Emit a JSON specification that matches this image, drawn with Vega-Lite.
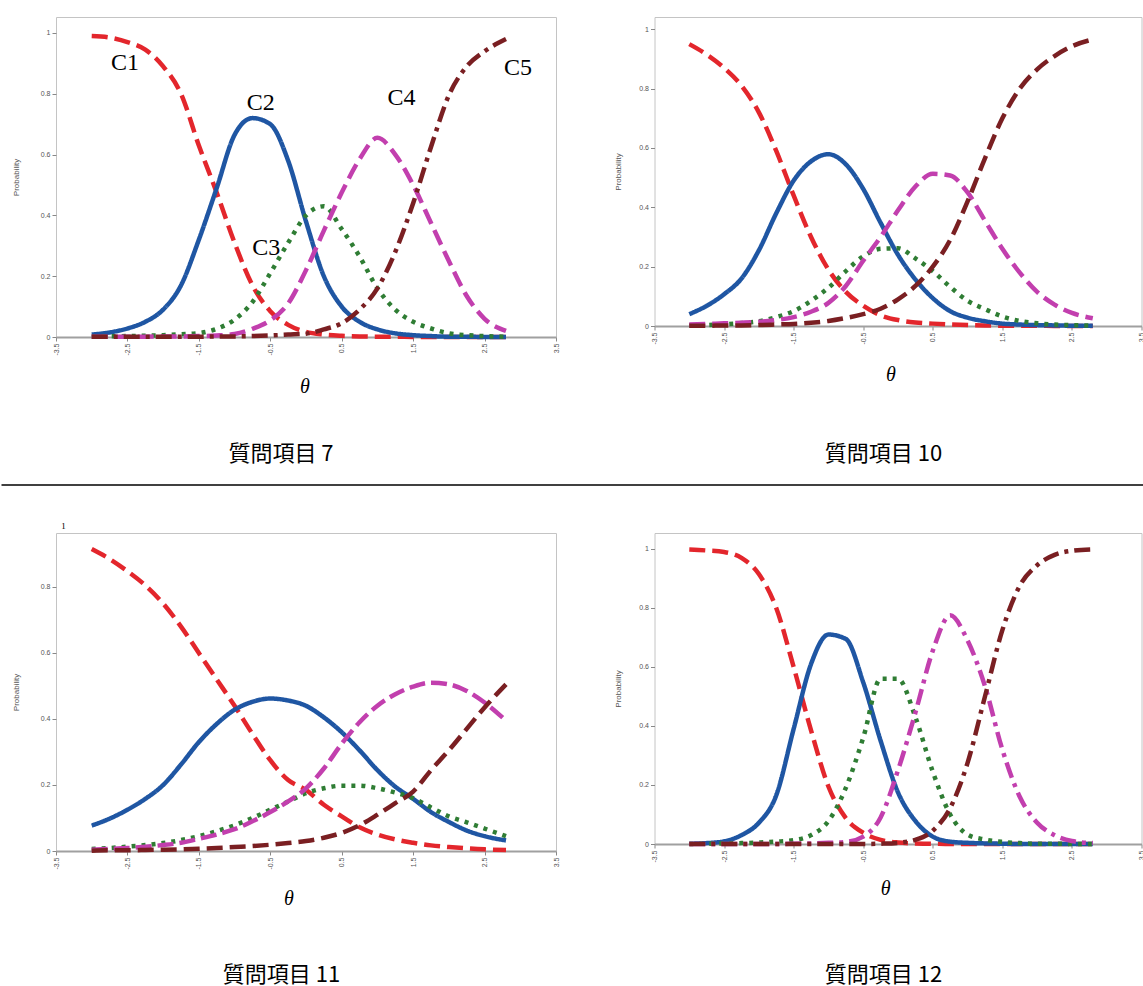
{
  "$schema": "https://vega.github.io/schema/vega-lite/v6.json",
  "padding": {"left": 0, "top": 16, "right": 0, "bottom": 0},
  "background": "white",
  "columns": 2,
  "bounds": "flush",
  "align": "all",
  "spacing": {"row": 196, "column": 98.5},
  "resolve": {"scale": {"x": "independent", "y": "independent", "strokeDash": "independent"}},
  "config": {
    "view": {"stroke": "#c4c4c4", "strokeWidth": 1},
    "axis": {"grid": false, "labelFont": "Liberation Sans", "labelFontSize": 7, "labelColor": "#555555", "tickColor": "#888888", "tickSize": 4, "labelPadding": 2, "labelExpr": "'' + datum.value"},
    "axisX": {"domainColor": "#a0a0a0", "domainWidth": 2, "labelAngle": -90, "titleFont": "Liberation Serif", "titleFontStyle": "italic", "titleFontWeight": "normal", "titleFontSize": 20, "titleColor": "black", "titleAlign": "center", "titleBaseline": "middle", "titleAngle": 0},
    "axisY": {"domain": false, "titleFont": "Liberation Sans", "titleFontSize": 8, "titleColor": "#555555", "titleFontWeight": "normal", "titleBaseline": "middle"},
    "line": {"strokeWidth": 4.5, "strokeCap": "butt", "interpolate": "monotone"},
    "title": {"font": "Noto Sans CJK JP", "fontSize": 22, "fontWeight": "normal", "color": "black", "anchor": "middle", "frame": "group", "baseline": "top"}
  },
  "datasets": {
    "labels": [
      {"lab": "C1", "t": -2.533, "p": 0.902},
      {"lab": "C2", "t": -0.633, "p": 0.771},
      {"lab": "C3", "t": -0.557, "p": 0.294},
      {"lab": "C4", "t": 1.337, "p": 0.787},
      {"lab": "C5", "t": 2.967, "p": 0.886}
    ],
    "curves": [
{"i":7,"c":"C1","t":-3,"p":0.99},{"i":7,"c":"C1","t":-2.75,"p":0.985},{"i":7,"c":"C1","t":-2.5,"p":0.97},{"i":7,"c":"C1","t":-2.25,"p":0.945},{"i":7,"c":"C1","t":-2,"p":0.89},{"i":7,"c":"C1","t":-1.75,"p":0.8},{"i":7,"c":"C1","t":-1.5,"p":0.63},{"i":7,"c":"C1","t":-1.25,"p":0.475},{"i":7,"c":"C1","t":-1,"p":0.31},{"i":7,"c":"C1","t":-0.75,"p":0.17},{"i":7,"c":"C1","t":-0.5,"p":0.085},{"i":7,"c":"C1","t":-0.25,"p":0.04},{"i":7,"c":"C1","t":0,"p":0.017},{"i":7,"c":"C1","t":0.25,"p":0.008},{"i":7,"c":"C1","t":0.5,"p":0.004},{"i":7,"c":"C1","t":0.75,"p":0.002},{"i":7,"c":"C1","t":1,"p":0.001},{"i":7,"c":"C1","t":1.25,"p":0.001},{"i":7,"c":"C1","t":1.5,"p":0},{"i":7,"c":"C1","t":1.75,"p":0},{"i":7,"c":"C1","t":2,"p":0},{"i":7,"c":"C1","t":2.25,"p":0},{"i":7,"c":"C1","t":2.5,"p":0},{"i":7,"c":"C1","t":2.8,"p":0},
{"i":7,"c":"C2","t":-3,"p":0.008},{"i":7,"c":"C2","t":-2.75,"p":0.015},{"i":7,"c":"C2","t":-2.5,"p":0.028},{"i":7,"c":"C2","t":-2.25,"p":0.05},{"i":7,"c":"C2","t":-2,"p":0.09},{"i":7,"c":"C2","t":-1.75,"p":0.17},{"i":7,"c":"C2","t":-1.5,"p":0.32},{"i":7,"c":"C2","t":-1.25,"p":0.49},{"i":7,"c":"C2","t":-1,"p":0.665},{"i":7,"c":"C2","t":-0.75,"p":0.72},{"i":7,"c":"C2","t":-0.5,"p":0.7},{"i":7,"c":"C2","t":-0.25,"p":0.58},{"i":7,"c":"C2","t":0,"p":0.38},{"i":7,"c":"C2","t":0.25,"p":0.2},{"i":7,"c":"C2","t":0.5,"p":0.1},{"i":7,"c":"C2","t":0.75,"p":0.05},{"i":7,"c":"C2","t":1,"p":0.025},{"i":7,"c":"C2","t":1.25,"p":0.012},{"i":7,"c":"C2","t":1.5,"p":0.006},{"i":7,"c":"C2","t":1.75,"p":0.003},{"i":7,"c":"C2","t":2,"p":0.001},{"i":7,"c":"C2","t":2.25,"p":0.001},{"i":7,"c":"C2","t":2.5,"p":0},{"i":7,"c":"C2","t":2.8,"p":0},
{"i":7,"c":"C3","t":-3,"p":0.001},{"i":7,"c":"C3","t":-2.75,"p":0.002},{"i":7,"c":"C3","t":-2.5,"p":0.003},{"i":7,"c":"C3","t":-2.25,"p":0.004},{"i":7,"c":"C3","t":-2,"p":0.006},{"i":7,"c":"C3","t":-1.75,"p":0.009},{"i":7,"c":"C3","t":-1.5,"p":0.013},{"i":7,"c":"C3","t":-1.25,"p":0.027},{"i":7,"c":"C3","t":-1,"p":0.057},{"i":7,"c":"C3","t":-0.75,"p":0.115},{"i":7,"c":"C3","t":-0.5,"p":0.21},{"i":7,"c":"C3","t":-0.25,"p":0.31},{"i":7,"c":"C3","t":0,"p":0.4},{"i":7,"c":"C3","t":0.25,"p":0.43},{"i":7,"c":"C3","t":0.5,"p":0.355},{"i":7,"c":"C3","t":0.75,"p":0.265},{"i":7,"c":"C3","t":1,"p":0.16},{"i":7,"c":"C3","t":1.25,"p":0.09},{"i":7,"c":"C3","t":1.5,"p":0.05},{"i":7,"c":"C3","t":1.75,"p":0.028},{"i":7,"c":"C3","t":2,"p":0.012},{"i":7,"c":"C3","t":2.25,"p":0.006},{"i":7,"c":"C3","t":2.5,"p":0.003},{"i":7,"c":"C3","t":2.8,"p":0.001},
{"i":7,"c":"C4","t":-3,"p":0.001},{"i":7,"c":"C4","t":-2.75,"p":0.001},{"i":7,"c":"C4","t":-2.5,"p":0.001},{"i":7,"c":"C4","t":-2.25,"p":0.001},{"i":7,"c":"C4","t":-2,"p":0.002},{"i":7,"c":"C4","t":-1.75,"p":0.002},{"i":7,"c":"C4","t":-1.5,"p":0.003},{"i":7,"c":"C4","t":-1.25,"p":0.005},{"i":7,"c":"C4","t":-1,"p":0.01},{"i":7,"c":"C4","t":-0.75,"p":0.027},{"i":7,"c":"C4","t":-0.5,"p":0.055},{"i":7,"c":"C4","t":-0.25,"p":0.11},{"i":7,"c":"C4","t":0,"p":0.22},{"i":7,"c":"C4","t":0.25,"p":0.35},{"i":7,"c":"C4","t":0.5,"p":0.475},{"i":7,"c":"C4","t":0.75,"p":0.585},{"i":7,"c":"C4","t":1,"p":0.655},{"i":7,"c":"C4","t":1.25,"p":0.6},{"i":7,"c":"C4","t":1.5,"p":0.5},{"i":7,"c":"C4","t":1.75,"p":0.375},{"i":7,"c":"C4","t":2,"p":0.25},{"i":7,"c":"C4","t":2.25,"p":0.135},{"i":7,"c":"C4","t":2.5,"p":0.06},{"i":7,"c":"C4","t":2.8,"p":0.02},
{"i":7,"c":"C5","t":-3,"p":0.001},{"i":7,"c":"C5","t":-2.75,"p":0.001},{"i":7,"c":"C5","t":-2.5,"p":0.001},{"i":7,"c":"C5","t":-2.25,"p":0.001},{"i":7,"c":"C5","t":-2,"p":0.001},{"i":7,"c":"C5","t":-1.75,"p":0.001},{"i":7,"c":"C5","t":-1.5,"p":0.001},{"i":7,"c":"C5","t":-1.25,"p":0.002},{"i":7,"c":"C5","t":-1,"p":0.002},{"i":7,"c":"C5","t":-0.75,"p":0.003},{"i":7,"c":"C5","t":-0.5,"p":0.005},{"i":7,"c":"C5","t":-0.25,"p":0.008},{"i":7,"c":"C5","t":0,"p":0.011},{"i":7,"c":"C5","t":0.25,"p":0.025},{"i":7,"c":"C5","t":0.5,"p":0.045},{"i":7,"c":"C5","t":0.75,"p":0.09},{"i":7,"c":"C5","t":1,"p":0.16},{"i":7,"c":"C5","t":1.25,"p":0.28},{"i":7,"c":"C5","t":1.5,"p":0.44},{"i":7,"c":"C5","t":1.75,"p":0.625},{"i":7,"c":"C5","t":2,"p":0.795},{"i":7,"c":"C5","t":2.25,"p":0.89},{"i":7,"c":"C5","t":2.5,"p":0.94},{"i":7,"c":"C5","t":2.8,"p":0.98},
{"i":10,"c":"C1","t":-3,"p":0.95},{"i":10,"c":"C1","t":-2.75,"p":0.915},{"i":10,"c":"C1","t":-2.5,"p":0.87},{"i":10,"c":"C1","t":-2.25,"p":0.81},{"i":10,"c":"C1","t":-2,"p":0.72},{"i":10,"c":"C1","t":-1.75,"p":0.59},{"i":10,"c":"C1","t":-1.5,"p":0.44},{"i":10,"c":"C1","t":-1.25,"p":0.3},{"i":10,"c":"C1","t":-1,"p":0.19},{"i":10,"c":"C1","t":-0.75,"p":0.115},{"i":10,"c":"C1","t":-0.5,"p":0.068},{"i":10,"c":"C1","t":-0.25,"p":0.036},{"i":10,"c":"C1","t":0,"p":0.02},{"i":10,"c":"C1","t":0.25,"p":0.012},{"i":10,"c":"C1","t":0.5,"p":0.008},{"i":10,"c":"C1","t":0.75,"p":0.005},{"i":10,"c":"C1","t":1,"p":0.003},{"i":10,"c":"C1","t":1.25,"p":0.002},{"i":10,"c":"C1","t":1.5,"p":0.001},{"i":10,"c":"C1","t":1.75,"p":0.001},{"i":10,"c":"C1","t":2,"p":0.001},{"i":10,"c":"C1","t":2.25,"p":0},{"i":10,"c":"C1","t":2.5,"p":0},{"i":10,"c":"C1","t":2.8,"p":0},
{"i":10,"c":"C2","t":-3,"p":0.04},{"i":10,"c":"C2","t":-2.75,"p":0.068},{"i":10,"c":"C2","t":-2.5,"p":0.107},{"i":10,"c":"C2","t":-2.25,"p":0.16},{"i":10,"c":"C2","t":-2,"p":0.255},{"i":10,"c":"C2","t":-1.75,"p":0.38},{"i":10,"c":"C2","t":-1.5,"p":0.49},{"i":10,"c":"C2","t":-1.25,"p":0.555},{"i":10,"c":"C2","t":-1,"p":0.579},{"i":10,"c":"C2","t":-0.75,"p":0.545},{"i":10,"c":"C2","t":-0.5,"p":0.462},{"i":10,"c":"C2","t":-0.25,"p":0.348},{"i":10,"c":"C2","t":0,"p":0.24},{"i":10,"c":"C2","t":0.25,"p":0.157},{"i":10,"c":"C2","t":0.5,"p":0.094},{"i":10,"c":"C2","t":0.75,"p":0.05},{"i":10,"c":"C2","t":1,"p":0.028},{"i":10,"c":"C2","t":1.25,"p":0.016},{"i":10,"c":"C2","t":1.5,"p":0.008},{"i":10,"c":"C2","t":1.75,"p":0.005},{"i":10,"c":"C2","t":2,"p":0.003},{"i":10,"c":"C2","t":2.25,"p":0.002},{"i":10,"c":"C2","t":2.5,"p":0.001},{"i":10,"c":"C2","t":2.8,"p":0.001},
{"i":10,"c":"C3","t":-3,"p":0.002},{"i":10,"c":"C3","t":-2.75,"p":0.003},{"i":10,"c":"C3","t":-2.5,"p":0.006},{"i":10,"c":"C3","t":-2.25,"p":0.01},{"i":10,"c":"C3","t":-2,"p":0.016},{"i":10,"c":"C3","t":-1.75,"p":0.03},{"i":10,"c":"C3","t":-1.5,"p":0.05},{"i":10,"c":"C3","t":-1.25,"p":0.085},{"i":10,"c":"C3","t":-1,"p":0.129},{"i":10,"c":"C3","t":-0.75,"p":0.185},{"i":10,"c":"C3","t":-0.5,"p":0.235},{"i":10,"c":"C3","t":-0.25,"p":0.26},{"i":10,"c":"C3","t":0,"p":0.262},{"i":10,"c":"C3","t":0.25,"p":0.228},{"i":10,"c":"C3","t":0.5,"p":0.185},{"i":10,"c":"C3","t":0.75,"p":0.132},{"i":10,"c":"C3","t":1,"p":0.085},{"i":10,"c":"C3","t":1.25,"p":0.057},{"i":10,"c":"C3","t":1.5,"p":0.032},{"i":10,"c":"C3","t":1.75,"p":0.017},{"i":10,"c":"C3","t":2,"p":0.009},{"i":10,"c":"C3","t":2.25,"p":0.005},{"i":10,"c":"C3","t":2.5,"p":0.003},{"i":10,"c":"C3","t":2.8,"p":0.001},
{"i":10,"c":"C4","t":-3,"p":0.005},{"i":10,"c":"C4","t":-2.75,"p":0.007},{"i":10,"c":"C4","t":-2.5,"p":0.009},{"i":10,"c":"C4","t":-2.25,"p":0.011},{"i":10,"c":"C4","t":-2,"p":0.014},{"i":10,"c":"C4","t":-1.75,"p":0.02},{"i":10,"c":"C4","t":-1.5,"p":0.03},{"i":10,"c":"C4","t":-1.25,"p":0.048},{"i":10,"c":"C4","t":-1,"p":0.078},{"i":10,"c":"C4","t":-0.75,"p":0.135},{"i":10,"c":"C4","t":-0.5,"p":0.22},{"i":10,"c":"C4","t":-0.25,"p":0.3},{"i":10,"c":"C4","t":0,"p":0.39},{"i":10,"c":"C4","t":0.25,"p":0.47},{"i":10,"c":"C4","t":0.5,"p":0.513},{"i":10,"c":"C4","t":0.75,"p":0.507},{"i":10,"c":"C4","t":1,"p":0.45},{"i":10,"c":"C4","t":1.25,"p":0.355},{"i":10,"c":"C4","t":1.5,"p":0.26},{"i":10,"c":"C4","t":1.75,"p":0.18},{"i":10,"c":"C4","t":2,"p":0.115},{"i":10,"c":"C4","t":2.25,"p":0.072},{"i":10,"c":"C4","t":2.5,"p":0.044},{"i":10,"c":"C4","t":2.8,"p":0.026},
{"i":10,"c":"C5","t":-3,"p":0.001},{"i":10,"c":"C5","t":-2.75,"p":0.001},{"i":10,"c":"C5","t":-2.5,"p":0.002},{"i":10,"c":"C5","t":-2.25,"p":0.002},{"i":10,"c":"C5","t":-2,"p":0.003},{"i":10,"c":"C5","t":-1.75,"p":0.005},{"i":10,"c":"C5","t":-1.5,"p":0.007},{"i":10,"c":"C5","t":-1.25,"p":0.011},{"i":10,"c":"C5","t":-1,"p":0.017},{"i":10,"c":"C5","t":-0.75,"p":0.027},{"i":10,"c":"C5","t":-0.5,"p":0.04},{"i":10,"c":"C5","t":-0.25,"p":0.058},{"i":10,"c":"C5","t":0,"p":0.09},{"i":10,"c":"C5","t":0.25,"p":0.135},{"i":10,"c":"C5","t":0.5,"p":0.2},{"i":10,"c":"C5","t":0.75,"p":0.29},{"i":10,"c":"C5","t":1,"p":0.42},{"i":10,"c":"C5","t":1.25,"p":0.565},{"i":10,"c":"C5","t":1.5,"p":0.7},{"i":10,"c":"C5","t":1.75,"p":0.8},{"i":10,"c":"C5","t":2,"p":0.865},{"i":10,"c":"C5","t":2.25,"p":0.91},{"i":10,"c":"C5","t":2.5,"p":0.943},{"i":10,"c":"C5","t":2.8,"p":0.966},
{"i":11,"c":"C1","t":-3,"p":0.915},{"i":11,"c":"C1","t":-2.75,"p":0.885},{"i":11,"c":"C1","t":-2.5,"p":0.848},{"i":11,"c":"C1","t":-2.25,"p":0.805},{"i":11,"c":"C1","t":-2,"p":0.75},{"i":11,"c":"C1","t":-1.75,"p":0.68},{"i":11,"c":"C1","t":-1.5,"p":0.6},{"i":11,"c":"C1","t":-1.25,"p":0.52},{"i":11,"c":"C1","t":-1,"p":0.44},{"i":11,"c":"C1","t":-0.75,"p":0.355},{"i":11,"c":"C1","t":-0.5,"p":0.275},{"i":11,"c":"C1","t":-0.25,"p":0.215},{"i":11,"c":"C1","t":0,"p":0.185},{"i":11,"c":"C1","t":0.25,"p":0.14},{"i":11,"c":"C1","t":0.5,"p":0.105},{"i":11,"c":"C1","t":0.75,"p":0.072},{"i":11,"c":"C1","t":1,"p":0.05},{"i":11,"c":"C1","t":1.25,"p":0.035},{"i":11,"c":"C1","t":1.5,"p":0.025},{"i":11,"c":"C1","t":1.75,"p":0.017},{"i":11,"c":"C1","t":2,"p":0.012},{"i":11,"c":"C1","t":2.25,"p":0.008},{"i":11,"c":"C1","t":2.5,"p":0.005},{"i":11,"c":"C1","t":2.8,"p":0.003},
{"i":11,"c":"C2","t":-3,"p":0.077},{"i":11,"c":"C2","t":-2.75,"p":0.098},{"i":11,"c":"C2","t":-2.5,"p":0.125},{"i":11,"c":"C2","t":-2.25,"p":0.158},{"i":11,"c":"C2","t":-2,"p":0.2},{"i":11,"c":"C2","t":-1.75,"p":0.262},{"i":11,"c":"C2","t":-1.5,"p":0.33},{"i":11,"c":"C2","t":-1.25,"p":0.385},{"i":11,"c":"C2","t":-1,"p":0.428},{"i":11,"c":"C2","t":-0.75,"p":0.452},{"i":11,"c":"C2","t":-0.5,"p":0.462},{"i":11,"c":"C2","t":-0.25,"p":0.456},{"i":11,"c":"C2","t":0,"p":0.44},{"i":11,"c":"C2","t":0.25,"p":0.405},{"i":11,"c":"C2","t":0.5,"p":0.36},{"i":11,"c":"C2","t":0.75,"p":0.305},{"i":11,"c":"C2","t":1,"p":0.245},{"i":11,"c":"C2","t":1.25,"p":0.195},{"i":11,"c":"C2","t":1.5,"p":0.158},{"i":11,"c":"C2","t":1.75,"p":0.118},{"i":11,"c":"C2","t":2,"p":0.088},{"i":11,"c":"C2","t":2.25,"p":0.062},{"i":11,"c":"C2","t":2.5,"p":0.045},{"i":11,"c":"C2","t":2.8,"p":0.032},
{"i":11,"c":"C3","t":-3,"p":0.006},{"i":11,"c":"C3","t":-2.75,"p":0.009},{"i":11,"c":"C3","t":-2.5,"p":0.013},{"i":11,"c":"C3","t":-2.25,"p":0.018},{"i":11,"c":"C3","t":-2,"p":0.024},{"i":11,"c":"C3","t":-1.75,"p":0.033},{"i":11,"c":"C3","t":-1.5,"p":0.045},{"i":11,"c":"C3","t":-1.25,"p":0.06},{"i":11,"c":"C3","t":-1,"p":0.078},{"i":11,"c":"C3","t":-0.75,"p":0.1},{"i":11,"c":"C3","t":-0.5,"p":0.125},{"i":11,"c":"C3","t":-0.25,"p":0.15},{"i":11,"c":"C3","t":0,"p":0.175},{"i":11,"c":"C3","t":0.25,"p":0.19},{"i":11,"c":"C3","t":0.5,"p":0.198},{"i":11,"c":"C3","t":0.75,"p":0.198},{"i":11,"c":"C3","t":1,"p":0.19},{"i":11,"c":"C3","t":1.25,"p":0.177},{"i":11,"c":"C3","t":1.5,"p":0.16},{"i":11,"c":"C3","t":1.75,"p":0.132},{"i":11,"c":"C3","t":2,"p":0.105},{"i":11,"c":"C3","t":2.25,"p":0.087},{"i":11,"c":"C3","t":2.5,"p":0.068},{"i":11,"c":"C3","t":2.8,"p":0.045},
{"i":11,"c":"C4","t":-3,"p":0.004},{"i":11,"c":"C4","t":-2.75,"p":0.006},{"i":11,"c":"C4","t":-2.5,"p":0.009},{"i":11,"c":"C4","t":-2.25,"p":0.013},{"i":11,"c":"C4","t":-2,"p":0.018},{"i":11,"c":"C4","t":-1.75,"p":0.025},{"i":11,"c":"C4","t":-1.5,"p":0.037},{"i":11,"c":"C4","t":-1.25,"p":0.05},{"i":11,"c":"C4","t":-1,"p":0.066},{"i":11,"c":"C4","t":-0.75,"p":0.09},{"i":11,"c":"C4","t":-0.5,"p":0.118},{"i":11,"c":"C4","t":-0.25,"p":0.15},{"i":11,"c":"C4","t":0,"p":0.19},{"i":11,"c":"C4","t":0.25,"p":0.25},{"i":11,"c":"C4","t":0.5,"p":0.325},{"i":11,"c":"C4","t":0.75,"p":0.39},{"i":11,"c":"C4","t":1,"p":0.44},{"i":11,"c":"C4","t":1.25,"p":0.475},{"i":11,"c":"C4","t":1.5,"p":0.498},{"i":11,"c":"C4","t":1.75,"p":0.51},{"i":11,"c":"C4","t":2,"p":0.505},{"i":11,"c":"C4","t":2.25,"p":0.485},{"i":11,"c":"C4","t":2.5,"p":0.45},{"i":11,"c":"C4","t":2.8,"p":0.395},
{"i":11,"c":"C5","t":-3,"p":0.001},{"i":11,"c":"C5","t":-2.75,"p":0.002},{"i":11,"c":"C5","t":-2.5,"p":0.002},{"i":11,"c":"C5","t":-2.25,"p":0.003},{"i":11,"c":"C5","t":-2,"p":0.004},{"i":11,"c":"C5","t":-1.75,"p":0.005},{"i":11,"c":"C5","t":-1.5,"p":0.007},{"i":11,"c":"C5","t":-1.25,"p":0.009},{"i":11,"c":"C5","t":-1,"p":0.012},{"i":11,"c":"C5","t":-0.75,"p":0.015},{"i":11,"c":"C5","t":-0.5,"p":0.019},{"i":11,"c":"C5","t":-0.25,"p":0.024},{"i":11,"c":"C5","t":0,"p":0.03},{"i":11,"c":"C5","t":0.25,"p":0.04},{"i":11,"c":"C5","t":0.5,"p":0.055},{"i":11,"c":"C5","t":0.75,"p":0.078},{"i":11,"c":"C5","t":1,"p":0.11},{"i":11,"c":"C5","t":1.25,"p":0.145},{"i":11,"c":"C5","t":1.5,"p":0.18},{"i":11,"c":"C5","t":1.75,"p":0.245},{"i":11,"c":"C5","t":2,"p":0.305},{"i":11,"c":"C5","t":2.25,"p":0.37},{"i":11,"c":"C5","t":2.5,"p":0.435},{"i":11,"c":"C5","t":2.8,"p":0.505},
{"i":12,"c":"C1","t":-3,"p":0.998},{"i":12,"c":"C1","t":-2.75,"p":0.995},{"i":12,"c":"C1","t":-2.5,"p":0.99},{"i":12,"c":"C1","t":-2.25,"p":0.97},{"i":12,"c":"C1","t":-2,"p":0.915},{"i":12,"c":"C1","t":-1.75,"p":0.8},{"i":12,"c":"C1","t":-1.5,"p":0.6},{"i":12,"c":"C1","t":-1.25,"p":0.385},{"i":12,"c":"C1","t":-1,"p":0.195},{"i":12,"c":"C1","t":-0.75,"p":0.088},{"i":12,"c":"C1","t":-0.5,"p":0.038},{"i":12,"c":"C1","t":-0.25,"p":0.014},{"i":12,"c":"C1","t":0,"p":0.005},{"i":12,"c":"C1","t":0.25,"p":0.002},{"i":12,"c":"C1","t":0.5,"p":0.001},{"i":12,"c":"C1","t":0.75,"p":0},{"i":12,"c":"C1","t":1,"p":0},{"i":12,"c":"C1","t":1.25,"p":0},{"i":12,"c":"C1","t":1.5,"p":0},{"i":12,"c":"C1","t":1.75,"p":0},{"i":12,"c":"C1","t":2,"p":0},{"i":12,"c":"C1","t":2.25,"p":0},{"i":12,"c":"C1","t":2.5,"p":0},{"i":12,"c":"C1","t":2.8,"p":0},
{"i":12,"c":"C2","t":-3,"p":0.001},{"i":12,"c":"C2","t":-2.75,"p":0.003},{"i":12,"c":"C2","t":-2.5,"p":0.009},{"i":12,"c":"C2","t":-2.25,"p":0.03},{"i":12,"c":"C2","t":-2,"p":0.072},{"i":12,"c":"C2","t":-1.75,"p":0.165},{"i":12,"c":"C2","t":-1.5,"p":0.39},{"i":12,"c":"C2","t":-1.25,"p":0.61},{"i":12,"c":"C2","t":-1,"p":0.71},{"i":12,"c":"C2","t":-0.75,"p":0.695},{"i":12,"c":"C2","t":-0.5,"p":0.548},{"i":12,"c":"C2","t":-0.25,"p":0.35},{"i":12,"c":"C2","t":0,"p":0.175},{"i":12,"c":"C2","t":0.25,"p":0.078},{"i":12,"c":"C2","t":0.5,"p":0.025},{"i":12,"c":"C2","t":0.75,"p":0.008},{"i":12,"c":"C2","t":1,"p":0.004},{"i":12,"c":"C2","t":1.25,"p":0.002},{"i":12,"c":"C2","t":1.5,"p":0.001},{"i":12,"c":"C2","t":1.75,"p":0},{"i":12,"c":"C2","t":2,"p":0},{"i":12,"c":"C2","t":2.25,"p":0},{"i":12,"c":"C2","t":2.5,"p":0},{"i":12,"c":"C2","t":2.8,"p":0},
{"i":12,"c":"C3","t":-3,"p":0},{"i":12,"c":"C3","t":-2.75,"p":0.001},{"i":12,"c":"C3","t":-2.5,"p":0.002},{"i":12,"c":"C3","t":-2.25,"p":0.003},{"i":12,"c":"C3","t":-2,"p":0.005},{"i":12,"c":"C3","t":-1.75,"p":0.008},{"i":12,"c":"C3","t":-1.5,"p":0.013},{"i":12,"c":"C3","t":-1.25,"p":0.03},{"i":12,"c":"C3","t":-1,"p":0.078},{"i":12,"c":"C3","t":-0.75,"p":0.19},{"i":12,"c":"C3","t":-0.5,"p":0.36},{"i":12,"c":"C3","t":-0.25,"p":0.56},{"i":12,"c":"C3","t":0,"p":0.56},{"i":12,"c":"C3","t":0.25,"p":0.43},{"i":12,"c":"C3","t":0.5,"p":0.245},{"i":12,"c":"C3","t":0.75,"p":0.1},{"i":12,"c":"C3","t":1,"p":0.032},{"i":12,"c":"C3","t":1.25,"p":0.015},{"i":12,"c":"C3","t":1.5,"p":0.007},{"i":12,"c":"C3","t":1.75,"p":0.003},{"i":12,"c":"C3","t":2,"p":0.001},{"i":12,"c":"C3","t":2.25,"p":0.001},{"i":12,"c":"C3","t":2.5,"p":0},{"i":12,"c":"C3","t":2.8,"p":0},
{"i":12,"c":"C4","t":-3,"p":0},{"i":12,"c":"C4","t":-2.75,"p":0},{"i":12,"c":"C4","t":-2.5,"p":0},{"i":12,"c":"C4","t":-2.25,"p":0},{"i":12,"c":"C4","t":-2,"p":0},{"i":12,"c":"C4","t":-1.75,"p":0},{"i":12,"c":"C4","t":-1.5,"p":0.001},{"i":12,"c":"C4","t":-1.25,"p":0.002},{"i":12,"c":"C4","t":-1,"p":0.004},{"i":12,"c":"C4","t":-0.75,"p":0.007},{"i":12,"c":"C4","t":-0.5,"p":0.025},{"i":12,"c":"C4","t":-0.25,"p":0.09},{"i":12,"c":"C4","t":0,"p":0.25},{"i":12,"c":"C4","t":0.25,"p":0.445},{"i":12,"c":"C4","t":0.5,"p":0.655},{"i":12,"c":"C4","t":0.75,"p":0.775},{"i":12,"c":"C4","t":1,"p":0.69},{"i":12,"c":"C4","t":1.25,"p":0.535},{"i":12,"c":"C4","t":1.5,"p":0.32},{"i":12,"c":"C4","t":1.75,"p":0.16},{"i":12,"c":"C4","t":2,"p":0.072},{"i":12,"c":"C4","t":2.25,"p":0.03},{"i":12,"c":"C4","t":2.5,"p":0.01},{"i":12,"c":"C4","t":2.8,"p":0.003},
{"i":12,"c":"C5","t":-3,"p":0},{"i":12,"c":"C5","t":-2.75,"p":0},{"i":12,"c":"C5","t":-2.5,"p":0},{"i":12,"c":"C5","t":-2.25,"p":0},{"i":12,"c":"C5","t":-2,"p":0},{"i":12,"c":"C5","t":-1.75,"p":0},{"i":12,"c":"C5","t":-1.5,"p":0},{"i":12,"c":"C5","t":-1.25,"p":0},{"i":12,"c":"C5","t":-1,"p":0},{"i":12,"c":"C5","t":-0.75,"p":0},{"i":12,"c":"C5","t":-0.5,"p":0},{"i":12,"c":"C5","t":-0.25,"p":0.001},{"i":12,"c":"C5","t":0,"p":0.004},{"i":12,"c":"C5","t":0.25,"p":0.014},{"i":12,"c":"C5","t":0.5,"p":0.045},{"i":12,"c":"C5","t":0.75,"p":0.122},{"i":12,"c":"C5","t":1,"p":0.275},{"i":12,"c":"C5","t":1.25,"p":0.5},{"i":12,"c":"C5","t":1.5,"p":0.725},{"i":12,"c":"C5","t":1.75,"p":0.875},{"i":12,"c":"C5","t":2,"p":0.945},{"i":12,"c":"C5","t":2.25,"p":0.98},{"i":12,"c":"C5","t":2.5,"p":0.994},{"i":12,"c":"C5","t":2.8,"p":0.999}
    ]
  },
  "concat": [
    {
      "width": 500, "height": 320,
      "title": {"text": "質問項目 7", "orient": "bottom", "offset": 48, "dx": -25},
      "layer": [
        {
          "data": {"name": "curves"},
          "transform": [{"filter": "datum.i == 7"}],
          "mark": {"type": "line"},
          "encoding": {
            "x": {"field": "t", "type": "quantitative", "scale": {"domain": [-3.5, 3.5], "nice": false, "zero": false},
                  "axis": {"values": [-3.5, -2.5, -1.5, -0.5, 0.5, 1.5, 2.5, 3.5], "title": "θ", "titleX": 248.5, "titleY": 49}},
            "y": {"field": "p", "type": "quantitative", "scale": {"domain": [0, 1.0526], "nice": false},
                  "axis": {"values": [0, 0.2, 0.4, 0.6, 0.8, 1], "title": "Probability", "titleX": -40}},
            "color": {"field": "c", "type": "nominal", "legend": null,
                      "scale": {"domain": ["C1", "C2", "C3", "C4", "C5"], "range": ["#e3262c", "#1f56a3", "#2f7d34", "#c23fae", "#7a1f22"]}},
            "strokeDash": {"field": "c", "type": "nominal", "legend": null,
                           "scale": {"domain": ["C1", "C2", "C3", "C4", "C5"], "range": [[16, 7], [1, 0], [4, 6], [16, 7], [16, 6, 4, 6]]}}
          }
        },
        {
          "data": {"name": "labels"},
          "mark": {"type": "text", "font": "Liberation Serif", "fontSize": 24, "color": "black", "align": "center", "baseline": "middle"},
          "encoding": {
            "x": {"field": "t", "type": "quantitative"},
            "y": {"field": "p", "type": "quantitative"},
            "text": {"field": "lab"}
          }
        }
      ]
    },
    {
      "width": 487, "height": 309,
      "title": {"text": "質問項目 10", "orient": "bottom", "offset": 60, "dx": -14.5},
      "layer": [
        {
          "data": {"name": "curves"},
          "transform": [{"filter": "datum.i == 10"}],
          "mark": {"type": "line"},
          "encoding": {
            "x": {"field": "t", "type": "quantitative", "scale": {"domain": [-3.5, 3.5], "nice": false, "zero": false},
                  "axis": {"values": [-3.5, -2.5, -1.5, -0.5, 0.5, 1.5, 2.5, 3.5], "title": "θ", "titleX": 236, "titleY": 48}},
            "y": {"field": "p", "type": "quantitative", "scale": {"domain": [0, 1.0415], "nice": false},
                  "axis": {"values": [0, 0.2, 0.4, 0.6, 0.8, 1], "title": "Probability", "titleX": -36}},
            "color": {"field": "c", "type": "nominal", "legend": null,
                      "scale": {"domain": ["C1", "C2", "C3", "C4", "C5"], "range": ["#e3262c", "#1f56a3", "#2f7d34", "#c23fae", "#7a1f22"]}},
            "strokeDash": {"field": "c", "type": "nominal", "legend": null,
                           "scale": {"domain": ["C1", "C2", "C3", "C4", "C5"], "range": [[16, 7], [1, 0], [4, 6], [16, 7], [16, 7]]}}
          }
        }
      ]
    },
    {
      "width": 500, "height": 318,
      "title": {"text": "質問項目 11", "orient": "bottom", "offset": 57, "dx": -24.5},
      "layer": [
        {
          "data": {"name": "curves"},
          "transform": [{"filter": "datum.i == 11"}],
          "mark": {"type": "line"},
          "encoding": {
            "x": {"field": "t", "type": "quantitative", "scale": {"domain": [-3.5, 3.5], "nice": false, "zero": false},
                  "axis": {"values": [-3.5, -2.5, -1.5, -0.5, 0.5, 1.5, 2.5, 3.5], "title": "θ", "titleX": 232.5, "titleY": 47}},
            "y": {"field": "p", "type": "quantitative", "scale": {"domain": [0, 0.9636], "nice": false},
                  "axis": {"values": [0, 0.2, 0.4, 0.6, 0.8], "title": "Probability", "titleX": -40}},
            "color": {"field": "c", "type": "nominal", "legend": null,
                      "scale": {"domain": ["C1", "C2", "C3", "C4", "C5"], "range": ["#e3262c", "#1f56a3", "#2f7d34", "#c23fae", "#7a1f22"]}},
            "strokeDash": {"field": "c", "type": "nominal", "legend": null,
                           "scale": {"domain": ["C1", "C2", "C3", "C4", "C5"], "range": [[16, 7], [1, 0], [4, 6], [16, 6], [16, 7]]}}
          }
        },
        {
          "data": {"values": [{"t": -3.395, "p": 0.985, "txt": "1"}]},
          "mark": {"type": "text", "font": "Liberation Serif", "fontSize": 9, "color": "black", "align": "center", "baseline": "middle"},
          "encoding": {
            "x": {"field": "t", "type": "quantitative"},
            "y": {"field": "p", "type": "quantitative"},
            "text": {"field": "txt"}
          }
        },
        {
          "data": {"values": [{"t": -4.263, "t2": 11.739, "p": 1.109}]},
          "mark": {"type": "rule", "color": "black", "strokeWidth": 1.5},
          "encoding": {
            "x": {"field": "t", "type": "quantitative"},
            "x2": {"field": "t2"},
            "y": {"field": "p", "type": "quantitative"}
          }
        }
      ]
    },
    {
      "width": 487, "height": 311,
      "title": {"text": "質問項目 12", "orient": "bottom", "offset": 67, "dx": -14.5},
      "layer": [
        {
          "data": {"name": "curves"},
          "transform": [{"filter": "datum.i == 12"}],
          "mark": {"type": "line"},
          "encoding": {
            "x": {"field": "t", "type": "quantitative", "scale": {"domain": [-3.5, 3.5], "nice": false, "zero": false},
                  "axis": {"values": [-3.5, -2.5, -1.5, -0.5, 0.5, 1.5, 2.5, 3.5], "title": "θ", "titleX": 230.6, "titleY": 44}},
            "y": {"field": "p", "type": "quantitative", "scale": {"domain": [0, 1.0542], "nice": false},
                  "axis": {"values": [0, 0.2, 0.4, 0.6, 0.8, 1], "title": "Probability", "titleX": -36}},
            "color": {"field": "c", "type": "nominal", "legend": null,
                      "scale": {"domain": ["C1", "C2", "C3", "C4", "C5"], "range": ["#e3262c", "#1f56a3", "#2f7d34", "#c23fae", "#7a1f22"]}},
            "strokeDash": {"field": "c", "type": "nominal", "legend": null,
                           "scale": {"domain": ["C1", "C2", "C3", "C4", "C5"], "range": [[16, 7], [1, 0], [4, 6], [16, 6, 4, 6], [16, 6, 4, 6]]}}
          }
        }
      ]
    }
  ]
}
